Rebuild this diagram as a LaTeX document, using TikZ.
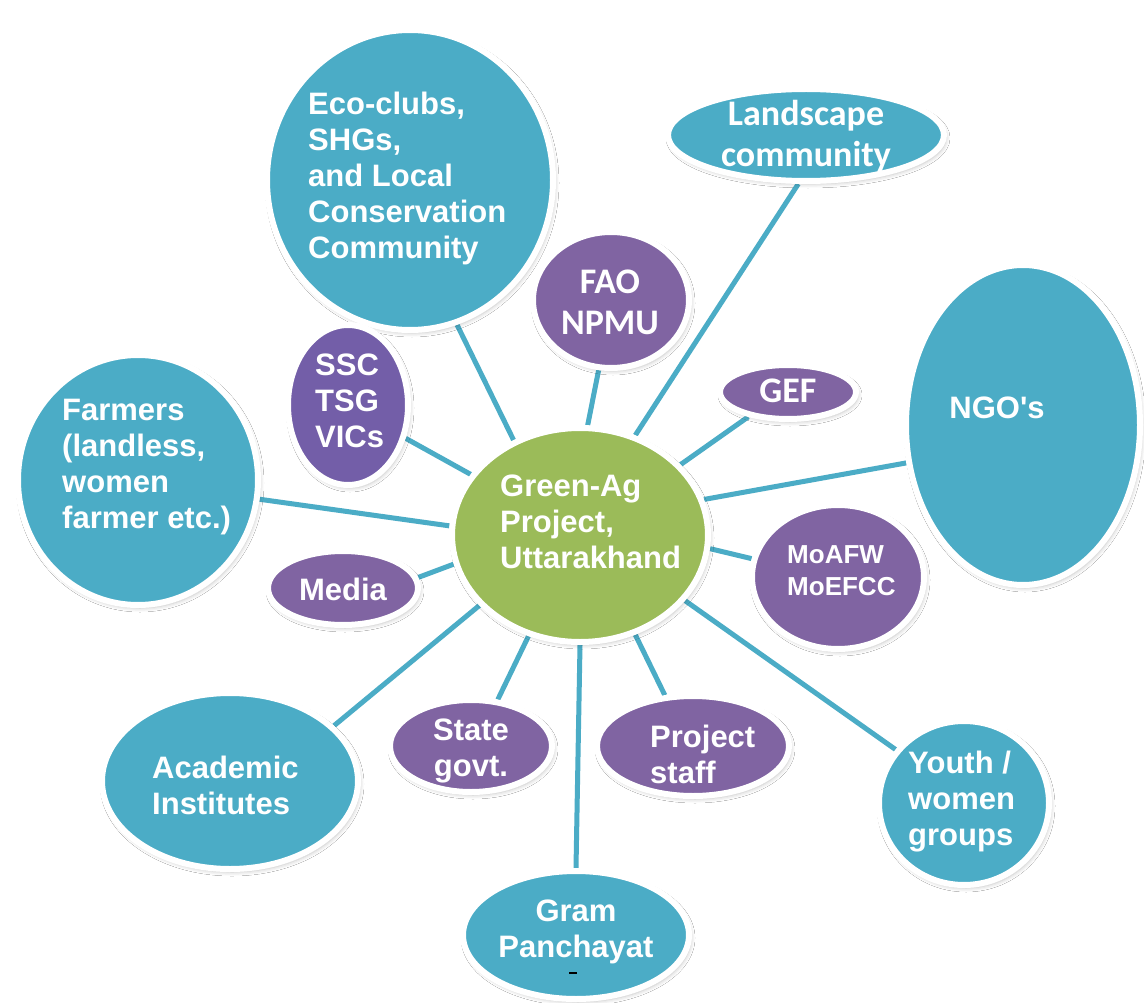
\documentclass[tikz,border=0pt]{standalone}
\usepackage{fontspec}
\setmainfont{Liberation Sans}[Ligatures=TeXOff]
\newfontfamily\calib{Carlito}
\usetikzlibrary{shapes.geometric,shadows.blur,backgrounds}
\definecolor{aqua}{HTML}{4BACC6}
\definecolor{violet}{HTML}{8064A2}
\definecolor{violetb}{HTML}{735EA8}
\definecolor{olive}{HTML}{9BBB59}
\newcommand{\fsArial}{\fontsize{31}{36}\selectfont\bfseries}
\newcommand{\fsSmall}{\fontsize{26}{32}\selectfont\bfseries}
\newcommand{\fsCal}{\calib\fontsize{36}{41}\selectfont\bfseries}
\tikzset{
  blob/.style={ellipse, draw=white, line width=6pt, inner sep=0pt,
    blur shadow={shadow xshift=2pt, shadow yshift=-3pt, shadow opacity=25, shadow blur radius=4pt}},
  tealblob/.style={blob, fill=aqua},
  purpblob/.style={blob, fill=violet},
  txt/.style={text=white, inner sep=0pt, font=\fsArial},
  conn/.style={draw=aqua, line width=5pt},
}
\begin{document}
\begin{tikzpicture}[x=1pt, y=-1pt]
\useasboundingbox (0,0) rectangle (1144,1003);

% outer stakeholders
\node[tealblob, minimum width=286, minimum height=300] (eco) at (410,180) {};
\node[tealblob, minimum width=276, minimum height=92] (land) at (806,135) {};
\node[purpblob, minimum width=156, minimum height=136] (fao) at (611,300) {};
\node[purpblob, minimum width=136, minimum height=54] (gef) at (788,392) {};
\node[tealblob, minimum width=234, minimum height=320] (ngo) at (1023,425) {};
\node[purpblob, minimum width=172, minimum height=144] (min) at (838,577) {};
\node[tealblob, minimum width=170, minimum height=164] (youth) at (964,803) {};
\node[purpblob, minimum width=192, minimum height=100] (staff) at (693,746) {};
\node[tealblob, minimum width=226, minimum height=128] (gram) at (576,935) {};
\node[purpblob, minimum width=162, minimum height=92] (state) at (471,746) {};
\node[tealblob, minimum width=256, minimum height=176] (acad) at (230,781) {};
\node[purpblob, minimum width=150, minimum height=74] (media) at (343,588) {};
\node[tealblob, minimum width=240, minimum height=250] (farm) at (138,480) {};
\node[blob, fill=violetb, minimum width=120, minimum height=160] (ssc) at (348,405) {};

% project at the hub
\node[blob, fill=olive, minimum width=256, minimum height=214] (hub) at (580,535) {};

% page and spokes, beneath the ellipses
\begin{scope}[on background layer]
\fill[white] (0,0) rectangle (1144,1003);
\draw[conn] (hub.125.8) -- (eco.-72);
\draw[conn] (hub.61) -- (land.-99);
\draw[conn] (hub.86) -- (fao.-100.5);
\draw[conn] (hub.35.3) -- (gef.212.5);
\draw[conn] (hub.16.7) -- (ngo.198.4);
\draw[conn] (hub.-6.6) -- (min.168.7);
\draw[conn] (hub.-32) -- (youth.142.6);
\draw[conn] (hub.-61) -- (staff.119);
\draw[conn] (hub.-90) -- (gram.90);
\draw[conn] (hub.-117) -- (state.60.3);
\draw[conn] (hub.215.5) -- (acad.28.5);
\draw[conn] (hub.193) -- (media.8);
\draw[conn] (hub.176) -- (farm.-9);
\draw[conn] (hub.151) -- (ssc.-30.7);
\end{scope}

% labels
\node[txt, anchor=west, align=left] (t-eco) at (308,178) {Eco-clubs,\\SHGs,\\and Local\\Conservation\\Community};
\node[txt, align=center, font=\fsCal] (t-land) at (806,136) {Landscape\\community};
\node[txt, align=center, font=\fsCal] (t-fao) at (610,302) {FAO\\NPMU};
\node[txt, font=\fsCal] (t-gef) at (788,391) {GEF};
\node[txt] (t-ngo) at (997,408) {NGO's};
\node[txt, anchor=west, align=left, font=\fsSmall] (t-min) at (787,571) {MoAFW\\MoEFCC};
\node[txt, anchor=west, align=left] (t-youth) at (908,802) {Youth /\\women\\groups};
\node[txt, anchor=west, align=left] (t-staff) at (650,754) {Project\\staff};
\node[txt, align=center] (t-gram) at (576,932) {Gram\\Panchayat};
\node[txt, align=center] (t-state) at (471,751) {State\\govt.};
\node[txt, anchor=west, align=left] (t-acad) at (152,785) {Academic\\Institutes};
\node[txt] (t-media) at (343,589) {Media};
\node[txt, anchor=west, align=left] (t-farm) at (62,467) {Farmers\\(landless,\\women\\farmer etc.)};
\node[txt, anchor=west, align=left] (t-ssc) at (315,401) {SSC\\TSG\\VICs};
\node[txt, anchor=west, align=left] (t-hub) at (500,522) {Green-Ag\\Project,\\Uttarakhand};

% stray mark below the village council label
\draw[black, line width=1.5pt] (569,973) -- (577,973);
\end{tikzpicture}
\end{document}
